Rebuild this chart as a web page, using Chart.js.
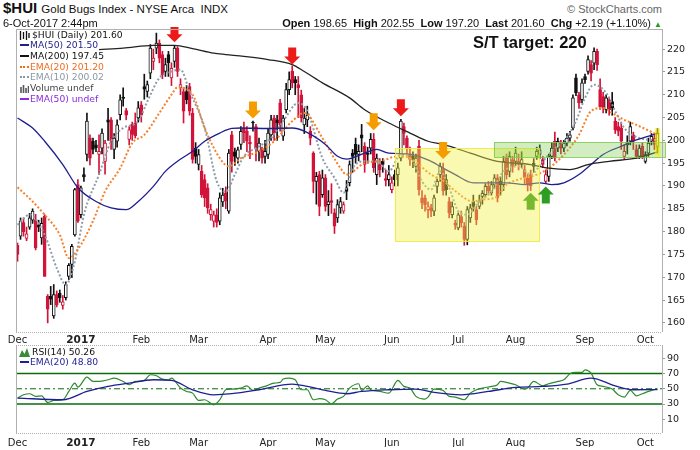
<!DOCTYPE html>
<html><head><meta charset="utf-8">
<script src="https://cdn.jsdelivr.net/npm/chart.js@4.4.1/dist/chart.umd.min.js"></script>
<style>
body{margin:0;width:700px;height:450px;position:relative;background:#fff;overflow:hidden;font-family:"Liberation Sans",Arial,sans-serif;color:#111}
.abs{position:absolute;white-space:nowrap;z-index:3}
#c1w{position:absolute;left:0;top:27px;width:700px;height:320px}
#c2w{position:absolute;left:0;top:343px;width:700px;height:107px}
.lg{position:absolute;left:19px;font:9.2px "DejaVu Sans",Verdana,sans-serif;line-height:10.7px;z-index:3;white-space:nowrap}
.sw{display:inline-block;width:9px;height:0;vertical-align:middle;margin:0 1px 1px 1px}
</style></head><body>
<div class="abs" style="left:3px;top:0px;font-size:15px;line-height:15px;font-weight:bold">$HUI <span style="font-weight:normal;font-size:11.5px">Gold Bugs Index - NYSE Arca&nbsp; INDX</span></div>
<div class="abs" style="left:3px;top:18px;font-size:11px;line-height:11px">6-Oct-2017 2:44pm</div>
<div class="abs" style="right:38px;top:4px;font-size:11px;line-height:11px;color:#666">© StockCharts.com</div>
<div class="abs" style="right:38px;top:18px;font-size:11px;line-height:11px"><b>Open</b> 198.65&nbsp; <b>High</b> 202.55&nbsp; <b>Low</b> 197.20&nbsp; <b>Last</b> 201.60&nbsp; <b>Chg</b> +2.19 (+1.10%) <span style="color:#2a9a2a;font-size:8px">▲</span></div>
<div class="abs" style="left:473px;top:34px;font-size:16.5px;line-height:16.5px;font-weight:bold">S/T target: 220</div>

<div class="lg" style="top:29.6px">
<div><svg width="11" height="9" viewBox="0 0 11 9" style="vertical-align:middle;margin-right:2px"><path d="M1.5 0v9M4.5 1v7M7.5 0v9M10 2v5" stroke="#111" stroke-width="1.3"/></svg>$HUI (Daily) 201.60</div>
<div style="color:#1e1e8f"><span class="sw" style="border-top:2px solid #1e1e8f"></span>MA(50) 201.50</div>
<div><span class="sw" style="border-top:2px solid #111"></span>MA(200) 197.45</div>
<div style="color:#f26a1b"><span class="sw" style="border-top:2px dotted #f26a1b"></span>EMA(20) 201.20</div>
<div style="color:#8a98a6"><span class="sw" style="border-top:2px dotted #8a98a6"></span>EMA(10) 200.02</div>
<div style="color:#444"><svg width="9" height="9" viewBox="0 0 9 9" style="vertical-align:middle;margin:0 1px 0 1px"><path d="M1 9V3M3.5 9V1M6 9V4M8.5 9V2" stroke="#555" stroke-width="1.6"/></svg>Volume undef</div>
<div style="color:#8a2be2"><span class="sw" style="border-top:2px solid #8a2be2"></span>EMA(50) undef</div>
</div>

<div class="lg" style="top:346.7px">
<div><svg width="11" height="9" viewBox="0 0 11 9" style="vertical-align:middle;margin-right:2px"><path d="M0 9L3 2L5.5 6L8 0L11 9Z" fill="#3a8a3a"/></svg>RSI(14) 50.26</div>
<div style="color:#1e1e96"><span class="sw" style="border-top:2px solid #1e1e96"></span>EMA(20) 48.80</div>
</div>

<div id="c1w"><canvas id="c1"></canvas></div>
<div id="c2w"><canvas id="c2"></canvas></div>

<script>
// trading days Dec 1 2016 .. Oct 6 2017
const N = 213
const monthIdx = [0,21,41,60,83,102,124,146,165,188,208]
const monthLbl = ['Dec','2017','Feb','Mar','Apr','May','Jun','Jul','Aug','Sep','Oct']
const yTicks = [160,165,170,175,180,185,190,195,200,205,210,215,220]
const rsiTicks = [10,30,50,70,90]

const opens = [177,179,182,178.5,181,182.5,182.6,181.5,178.6,183.4,165.8,165.8,161.5,166.2,166.5,163.8,165.5,170.2,172.8,179.3,
190.3,183.7,192.5,196.9,200.5,199.8,199,196.9,198.3,195.4,204.5,204.5,198,199.8,205.6,209.5,206.5,200.2,203.5,203.8,
204.9,207.8,211.8,210.7,214.7,217.3,220.2,221.3,218.8,215.1,218.8,213.7,217.3,220.2,211.5,210.7,210.7,211.8,206,198.3,
194.7,193.2,191.4,189.6,183.7,182.3,183.7,182.3,186.5,188.5,184.5,201.2,197.5,196.1,199.1,202.7,202,199.6,204,203,
197.6,198,196.5,196.9,201.2,204.9,204.5,208.2,200.9,206.7,211.1,215.1,213.3,212.2,210,203.4,204.5,202,197.2,191,
192.5,188.1,191.8,185.9,186.8,184.1,183,185.2,184.5,189.6,190.7,197.2,199.1,196.9,201.2,198.7,197.2,198.3,200.2,192.5,
194.7,195.4,191.6,191.4,189.2,192.5,192.5,196.1,203,200.5,196.9,196.5,194.3,198.7,187.4,187.4,184.8,185.2,184.5,189.9,
192.5,193.6,191.4,186.6,183.7,181.8,180.8,183.3,181.2,178.3,183,186.6,184.8,185.5,187.7,188.1,189.9,188.5,190.3,191.8,
191,190.3,196.1,193.2,195.8,195.4,195.4,194.7,193.6,191.8,192.5,195,196.5,196.9,195.8,191,192.1,196.5,199.8,198.3,
199.4,198.3,199.4,200.5,202.7,213.7,210,208.9,214,215.1,216.6,216.9,219.5,211.1,209.6,206.7,208.9,208.5,204.2,203,
202.7,196.5,199,199.8,201.2,198,196.5,198.7,195.4,197.2,199.8,200.5,198.65]
const highs = [177.5,183,183,181,184,185,183.8,182.5,183,183.7,166.2,168,168.4,167,167.2,166,169,173,177.2,189.5,
191.4,190,194,206,201.2,200.5,200,201.2,202.5,200,207,205,201.5,204.5,210,211.5,207,203,204,206,
208.5,208.5,214.5,213,221,220,223.5,222,219.5,218,219.5,217,220.8,220.5,213.5,211.5,212,212.5,207,199.5,
198,194.5,192.5,190.5,186,184.5,185,188.5,189.5,189.8,198,202,198.3,198.5,203,204,203,201,204.2,203.5,
200.5,198.5,200,202.5,205.5,205.5,205.5,209,205.5,212.5,215,216.3,214,214,211,207,207.5,203,197.5,193,
193.2,193.5,192.5,189,190.5,185,187,187.5,186.5,191.2,195.5,198,200.5,199,203.5,199.5,198.5,201.5,201.5,197,
196,196,193.5,194.5,192,193.5,195,204.6,203.8,201,198.5,197.5,197,200,189,188,186.5,186,188,191.5,
195,195,192.5,187.5,186.5,182.5,184.1,184.5,182,185.5,186,188,185.5,188,189,190.5,191,191,192.5,192.5,
192,196.5,197,197.5,196.5,198.5,197,197.5,194.5,192.5,193.5,196,198.5,199,196.5,193.5,197,199.5,201.8,200.5,
200,200,201.5,202,210,214.5,210.5,213.5,214.5,218.5,217.5,220.3,220,213.5,210.5,210,209.5,210.5,205,204,
204,199,201,204,201.8,199,199,199.5,197.5,200.5,201.5,201.5,202.55]
const lows = [173.5,178.3,179,178,180.5,181.8,176,180,177.2,170.2,160,164,161,163.5,164.5,163,165,169.5,169.9,179,
182,183,191,195.5,194.6,197,197.5,192.5,197,192.6,200,198,196,198.5,204.5,207.5,204.5,199,200,200.5,
204,204,209,209.5,213.5,215.5,219,217,213.5,214,214,212,216,214,210,203.8,208,205.5,195,195,
193.5,187.5,185.5,184,182.5,181,181,181.5,185.5,185,184,193,194.5,195,198,199.5,197.5,196,202,195.5,
195.5,195,195,196,200,200,200,202,200,206,210,211.5,210,205,204,201.5,203,199,188.5,186,
183.5,187.5,184.5,183.5,184,179.6,182,184,184,187,190,193,195,195.5,197.5,193,195,197,193,190.3,
192,193,190,190,188.5,190,190,195.5,199,197,194.5,194,193,188,185,184.5,183,183.3,183.5,188.5,
191,188,188,183,183,180.5,180.4,181,177,177.1,182,184.5,181.5,185,186,187.5,188,188,189.5,186.5,
188,189,191.5,192,193,194.5,193.5,194,190.5,188.9,189,193,195.8,196,194,190.6,191,196,195.5,197.5,
197,197.5,198.8,199.8,202.3,209.8,207,208.2,212.5,214.5,213,215.5,215.3,206.8,206,206,205.5,205.5,201.5,201,
198,196,197,199,198,196,196,196,195,196.5,199,198,197.2]
const closes = [175,182.3,180,179.5,183,184.5,176.4,181,181.8,170.2,163,165.2,166.2,164,165.5,164.6,168.4,172.6,176.8,189.2,
182.3,189.6,192,204.2,196.1,198,198.4,197.6,201.6,199.4,204,199.8,200.5,203.4,208.9,209.2,205.5,202.3,201.3,201,
207.1,205.6,211.2,212.2,220.2,218,221.3,218,214.4,216.6,217,215.8,220.2,215.1,212.2,206.4,208.9,206.4,195.8,196.5,
196.9,188.1,187.4,185.2,184.8,183.7,182,187.4,188,186.8,197.2,195.4,196.5,197.9,202,201.6,199.8,199.2,203.8,198.3,
199.4,196.1,197.6,201.6,204.5,201.6,203.8,203.4,204.9,211.1,213.3,212.6,212.6,211.5,204.9,204.9,205.5,200.5,191,192.1,
185.5,191.8,185.5,186.6,186.4,181.2,185.9,186.6,185.9,188.8,194.7,196.5,196.9,197.6,200.5,194.7,196.9,200.2,194,196.1,
193.6,194.7,191.2,192.5,190.7,191.4,194,204.2,201.5,198.3,195.8,195.8,196.1,189.2,186.3,185.9,185.5,184.5,187.4,191,
194.3,188.9,189.2,184.1,185.5,181.4,183.7,181.9,178.3,184.8,185.2,185.5,182.6,186.6,188.4,189.9,188.9,190.3,191.8,187.4,
190.3,195.4,192.5,196.5,194.3,197.2,194.7,195.8,191.8,190.3,190,194.3,197.6,197.9,194.7,192.5,196.5,198.3,196.1,199.8,
198.3,199.4,200.5,201.2,209.3,210.4,208.2,212.6,213.3,217.7,214.7,219.5,216.6,207.4,207.2,209.3,206.7,207.1,202.3,202,
199.8,197.6,199.5,203,199.8,196.5,198.3,196.5,196.9,199.4,200.9,199.1,201.6]

const ma50Idx = [0,5,9,15,20,26,31,36,40,45,49,53,58,62,67,71,74,83,91,95,102,106,109,115,119,123,130,137,141,145,151,156,162,168,173,177,181,186,190,194,200,205,212]
const ma50 = [204.9,202.7,199.8,194.7,189.6,186.6,185.2,184.8,186.6,189.9,193.2,195.4,197.6,199.8,201.6,202.6,202.7,202.6,202.7,202,199.1,196.5,195.9,197.2,198,197.2,197,195.4,193.9,192.5,190.7,190.7,190.7,190.3,190.7,190.3,190.7,192.5,194.7,196.9,198.7,200.1,201.5]
const ma200Idx = [27,35,45,52,58,65,69,75,83,91,95,101,110,115,123,130,136,141,150,159,170,176,183,189,196,205,212]
const ma200 = [219.9,220.2,220.8,220.8,220.1,219.1,218.8,218.4,217.7,216.6,215.1,212.6,209.3,206.7,203.8,201.6,199.8,199.1,197.2,195.4,194.7,193.9,193.6,194.7,195.4,196.1,197.45]
const ema20Idx = [0,5,9,14,17,20,25,29,34,38,42,47,51,53,58,62,67,70,74,80,85,91,95,101,107,109,115,120,126,130,137,141,145,151,154,159,162,166,172,176,182,186,190,194,197,201,205,212]
const ema20 = [189.7,186.6,183.7,179.3,174.2,176.1,182.3,188.8,193.9,199.4,201.2,206,210,211.6,210,202.7,196.1,194.3,196.1,197.6,199.8,204.2,206,200.5,193.9,192.5,195,195.4,196.5,196.1,192.5,191.2,188.9,186.6,187,187.7,190.3,191.4,192.5,193.9,197.6,201.2,206.4,207.1,206,204.5,203.4,201.2]
const ema10Idx = [0,4,9,13,16,19,22,27,31,35,40,43,47,51,54,57,62,66,69,72,75,79,84,88,93,96,101,105,108,111,115,119,123,127,131,134,137,140,143,146,149,153,157,161,166,170,174,178,181,185,188,191,195,198,201,206,212]
const ema10 = [181.5,183.7,179.3,172,168.4,173.5,183.7,192.5,199.8,202.7,204.2,208.5,213.7,215.1,215.5,210.7,202.7,191,188.8,192.5,196.5,198.3,200.5,204.2,208.2,206.4,196.1,191.8,188.5,193.9,195.4,195.4,193.2,196.9,195.4,191,189.2,193.2,189.6,184.5,183.7,186.6,188.8,193.2,194.3,192.5,195.4,198.3,199.8,204.2,209.3,212.2,210.4,206.4,202.7,200.5,200.02]

const rsiIdx = [0,2,4,6,8,10,12,15,17,19,20,23,25,27,30,32,35,37,39,42,44,46,48,50,51,54,56,58,60,62,65,67,69,71,74,76,78,80,82,85,87,88,90,92,94,96,98,100,102,104,106,108,110,113,114,116,117,120,123,126,128,130,132,135,136,138,141,143,145,148,150,152,154,157,159,160,163,165,168,169,171,174,176,179,181,183,185,187,188,190,192,194,197,199,201,203,205,207,209,210,212]
const rsi = [37.8,42.1,43.5,40,40.8,32.1,34.7,35.6,46.5,57.4,52.2,65.3,59.6,59.6,61.8,64,59.6,55.3,59.6,61,68.4,67.1,62.7,61.8,64,50.9,46.5,44.3,34.7,35.6,29,35.6,48.7,49.6,50.9,53.9,47.8,50.9,53.1,57.4,58.3,62.7,64,61.8,48.7,48.7,35.6,37,35.6,30.3,36.5,40,50.9,56.6,47.8,53.9,48.7,46.5,44.3,61,53.1,50.9,40,36.5,39.1,49.6,47.8,40,39.1,35.6,44.3,48.7,50.9,53.1,55.3,59.6,57.4,55.3,49.6,50.9,59.6,53.9,56.6,59.6,61.8,69.7,71.4,71.4,74.9,70.6,55.3,53.1,49.6,42.1,39.1,47.8,40.8,43.5,46.5,47.8,50.26]
const rsiEmaIdx = [0,15,23,30,37,45,51,58,65,71,80,91,96,102,109,114,123,132,138,147,156,165,174,182,190,198,204,212]
const rsiEma = [37.8,35.6,46.5,53.1,57.4,61.8,61,48.7,42.1,43.5,48.7,56.1,53.1,47.8,43.5,46.5,48.7,49.6,45.2,42.1,46.5,51.8,53.1,56.1,64,53.9,48.7,48.8]

// annotations drawn on the price panel (day index / price)
const boxes = [
  {x0:125.05,x1:172.85,y0:177.9,y1:198.3,fill:'rgba(240,240,70,0.42)',line:'rgba(236,236,60,0.9)'},
  {x0:157.8,x1:214.5,y0:196.3,y1:199.6,fill:'rgba(120,200,70,0.33)',line:'rgba(120,200,70,0.8)'},
  {x0:211.1,x1:212.9,y0:196.4,y1:202.6,fill:'rgba(245,240,0,0.6)',line:null}
]
const arrows = [
  {i:52,v:221.5,dir:-1,c:'#ee1a1a'},{i:91,v:216.6,dir:-1,c:'#ee1a1a'},{i:127,v:205.3,dir:-1,c:'#ee1a1a'},
  {i:78,v:204.8,dir:-1,c:'#f59c00'},{i:118,v:202.2,dir:-1,c:'#f59c00'},{i:141,v:195.9,dir:-1,c:'#f59c00'},
  {i:170,v:188.5,dir:1,c:'#78b82e'},{i:175,v:189.9,dir:1,c:'#2f9c22'}
]

const sparse=(idx,vals)=>{const a=new Array(N).fill(null);idx.forEach((k,j)=>a[k]=vals[j]);return a}
const labels=Array.from({length:N+1},(_,i)=>i<N?String(i):'')
const RED='#d2143a',BLK='#111'
const col=closes.map((c,i)=>c>=(i?closes[i-1]:opens[i])?BLK:RED)
const hollow=closes.map((c,i)=>c>=opens[i])

const frame={id:'frame',afterDraw(ch,a,o){const {left,right,top,bottom}=ch.chartArea,g=ch.ctx
  g.save();g.strokeStyle='#b0b0b0';g.lineWidth=1
  const ln=(x1,y1,x2,y2,d)=>{g.setLineDash(d||[]);g.beginPath();g.moveTo(x1,y1);g.lineTo(x2,y2);g.stroke()}
  ln(left+0.5,top,left+0.5,bottom);ln(right+0.5,top,right+0.5,bottom)
  ln(left,top+0.5,right,top+0.5,o.topDot?[1,1]:null);ln(left,bottom+0.5,right,bottom+0.5,[1,1])
  g.restore()}}

const overlay={id:'overlay',afterDatasetsDraw(ch){const g=ch.ctx,xs=ch.scales.x,ys=ch.scales.y
  g.save()
  boxes.forEach(b=>{const x0=xs.getPixelForValue(b.x0),x1=xs.getPixelForValue(b.x1),y0=ys.getPixelForValue(b.y1),y1=ys.getPixelForValue(b.y0)
    g.fillStyle=b.fill;g.fillRect(x0,y0,x1-x0,y1-y0)
    if(b.line){g.strokeStyle=b.line;g.lineWidth=1;g.strokeRect(Math.round(x0)+0.5,Math.round(y0)+0.5,Math.round(x1-x0),Math.round(y1-y0))}})
  arrows.forEach(a=>{const x=xs.getPixelForValue(a.i),y=ys.getPixelForValue(a.v),d=a.dir
    g.fillStyle=a.c;g.beginPath()
    g.moveTo(x,y);g.lineTo(x+8,y+8*d);g.lineTo(x+4,y+8*d);g.lineTo(x+4,y+17*d);g.lineTo(x-4,y+17*d);g.lineTo(x-4,y+8*d);g.lineTo(x-8,y+8*d);g.closePath();g.fill()})
  g.restore()}}

const lineDs=(data,color,w,dash)=>({type:'line',data,borderColor:color,borderWidth:w,borderDash:dash||[],pointRadius:0,spanGaps:true,cubicInterpolationMode:'monotone',order:0})
const xAxis=(pad)=>({type:'category',offset:true,grid:{display:false,drawTicks:false},border:{display:false},
  ticks:{autoSkip:false,maxRotation:0,padding:pad,color:'#222',
    font:c=>({family:'DejaVu Sans',size:c.index===21?10.5:10,weight:c.index===21?'bold':'normal'}),
    callback:(v,i)=>{const k=monthIdx.indexOf(i);return k<0?'':monthLbl[k]}},
  afterFit:s=>{s.height=14;s.paddingLeft=0;s.paddingRight=0}})
const yAxis=(min,max,ticks)=>({position:'right',min,max,grid:{drawOnChartArea:false,tickLength:3,color:'#999'},border:{display:false},
  afterBuildTicks:s=>{s.ticks=ticks.map(v=>({value:v}))},
  ticks:{padding:2,color:'#222',font:{family:'DejaVu Sans',size:9.5}},
  afterFit:s=>{s.width=38;s.paddingTop=0;s.paddingBottom=0}})

new Chart(document.getElementById('c1'),{type:'bar',data:{labels,datasets:[
  {data:lows.map((l,i)=>[l,highs[i]]),backgroundColor:col,barThickness:1,grouped:false,order:2,borderWidth:0},
  {data:opens.map((o,i)=>[o,closes[i]]),backgroundColor:col.map((c,i)=>hollow[i]?'#fff':c),borderColor:col,borderWidth:1,borderSkipped:false,barThickness:3,minBarLength:1,grouped:false,order:1},
  lineDs(sparse(ma200Idx,ma200),'#222',1.3),
  lineDs(sparse(ma50Idx,ma50),'#1e1e8f',1.3),
  lineDs(sparse(ema20Idx,ema20),'#f5802a',2,[2,2]),
  lineDs(sparse(ema10Idx,ema10),'#8e9caa',2,[2,2]),
]},options:{responsive:true,maintainAspectRatio:false,animation:false,
  layout:{padding:{left:16,right:0,top:2,bottom:1}},
  plugins:{legend:{display:false},tooltip:{enabled:false},frame:{topDot:false}},
  scales:{x:xAxis(2),y:yAxis(158,224.4,yTicks)}},plugins:[frame,overlay]})

const guides={id:'guides',beforeDatasetsDraw(ch){const g=ch.ctx,ys=ch.scales.y,{left,right}=ch.chartArea
  g.save();g.strokeStyle='#0b6b0b'
  ;[70,30].forEach(v=>{const y=ys.getPixelForValue(v);g.lineWidth=1.5;g.setLineDash([]);g.beginPath();g.moveTo(left,y);g.lineTo(right,y);g.stroke()})
  const y=ys.getPixelForValue(50);g.lineWidth=1;g.setLineDash([6,3,2,3]);g.beginPath();g.moveTo(left,y);g.lineTo(right,y);g.stroke()
  g.restore()}}

new Chart(document.getElementById('c2'),{type:'line',data:{labels,datasets:[
  lineDs(sparse(rsiEmaIdx,rsiEma),'#1e1e96',1.3),
  lineDs(sparse(rsiIdx,rsi),'#2e8a2e',1.2),
]},options:{responsive:true,maintainAspectRatio:false,animation:false,
  layout:{padding:{left:16,right:0,top:2,bottom:3}},
  plugins:{legend:{display:false},tooltip:{enabled:false},frame:{topDot:true}},
  scales:{x:xAxis(4),y:yAxis(-8,107.4,rsiTicks)}},plugins:[frame,guides]})
</script>
</body></html>
